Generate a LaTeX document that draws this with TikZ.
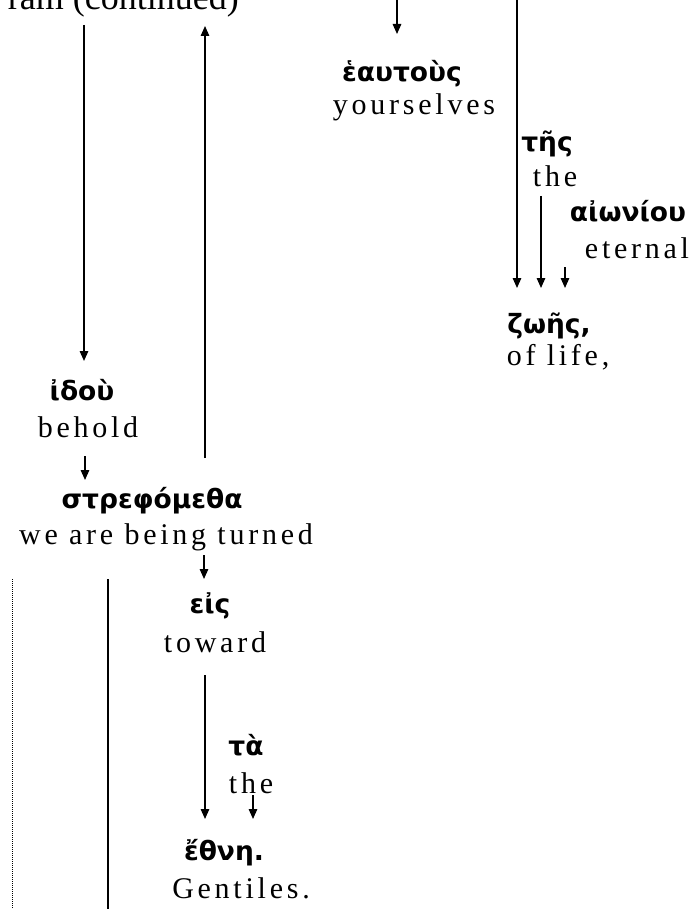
\documentclass[tikz,border=0pt]{standalone}
\usepackage{fontspec}
\setmainfont{Liberation Serif}
\newfontfamily\grk{DejaVu Sans}
\newfontfamily\eng[LetterSpace=12.5]{Liberation Serif}
\usetikzlibrary{arrows.meta}
\tikzset{
  gk/.style={font=\grk\bfseries\fontsize{26.5}{26.5}\selectfont, inner sep=0pt, anchor=base},
  en/.style={font=\eng\fontsize{30}{30}\selectfont, inner sep=0pt, anchor=base},
  ttl/.style={font=\fontsize{36}{36}\selectfont, inner sep=0pt, anchor=base east},
  link/.style={line width=1.5pt},
  arr/.style={link, -{Triangle[length=10pt,width=8.5pt]}},
  dotline/.style={line width=1.3pt, dash pattern=on 1pt off 1pt}
}
\begin{document}
\begin{tikzpicture}[x=1pt,y=-1pt]
\useasboundingbox (0,0) rectangle (695,909);
\clip (0,0) rectangle (695,909);
\fill[white] (0,0) rectangle (695,909);

% title
\node[ttl] (title) at (239,10) {ram (continued)};

% words
\node[gk] (g1) at (402,82) {ἑαυτοὺς};
\node[en] (e1) at (414,115) {yourselves};
\node[gk] (g2) at (547,152) {τῆς};
\node[en] (e2) at (555,187) {the};
\node[gk] (g3) at (628,222) {αἰωνίου};
\node[en] (e3) at (637,258) {eternal};
\node[gk] (g4) at (549,333) {ζωῆς,};
\node[en] (e4) at (558,365) {of life,};
\node[gk] (g5) at (82,400) {ἰδοὺ};
\node[en] (e5) at (88,437) {behold};
\node[gk] (g6) at (152,508) {στρεφόμεθα};
\node[en] (e6) at (166,544) {we are being turned};
\node[gk] (g7) at (210,613) {εἰς};
\node[en] (e7) at (215,652) {toward};
\node[gk] (g8) at (246,755) {τὰ};
\node[en] (e8) at (251,793) {the};
\node[gk] (g9) at (224,860) {ἔθνη.};
\node[en] (e9) at (241,898) {Gentiles.};

% connector end points
\coordinate (top1) at (84,25);
\coordinate (in5) at (84,361);
\coordinate (out6) at (205,458);
\coordinate (top2) at (205,26);
\coordinate (top3) at (397,-2);
\coordinate (in1) at (397,34);
\coordinate (top4) at (517,-2);
\coordinate (in4a) at (517,288);
\coordinate (out2) at (541,196);
\coordinate (in4b) at (541,288);
\coordinate (out3) at (565,267);
\coordinate (in4c) at (565,288);
\coordinate (out5) at (85,456);
\coordinate (in6) at (85,480);
\coordinate (out6b) at (204,555);
\coordinate (in7) at (204,579);
\coordinate (dtop) at (12.7,579);
\coordinate (dbot) at (12.7,912);
\coordinate (stop) at (108,579);
\coordinate (sbot) at (108,912);
\coordinate (out7) at (205,675);
\coordinate (in9a) at (205,819);
\coordinate (out8) at (253,795);
\coordinate (in9b) at (253,819);

% connectors
\draw[arr] (top1) -- (in5);
\draw[arr] (out6) -- (top2);
\draw[arr] (top3) -- (in1);
\draw[arr] (top4) -- (in4a);
\draw[arr] (out2) -- (in4b);
\draw[arr] (out3) -- (in4c);
\draw[arr] (out5) -- (in6);
\draw[arr] (out6b) -- (in7);
\draw[dotline] (dtop) -- (dbot);
\draw[link] (stop) -- (sbot);
\draw[arr] (out7) -- (in9a);
\draw[arr] (out8) -- (in9b);
\end{tikzpicture}
\end{document}
